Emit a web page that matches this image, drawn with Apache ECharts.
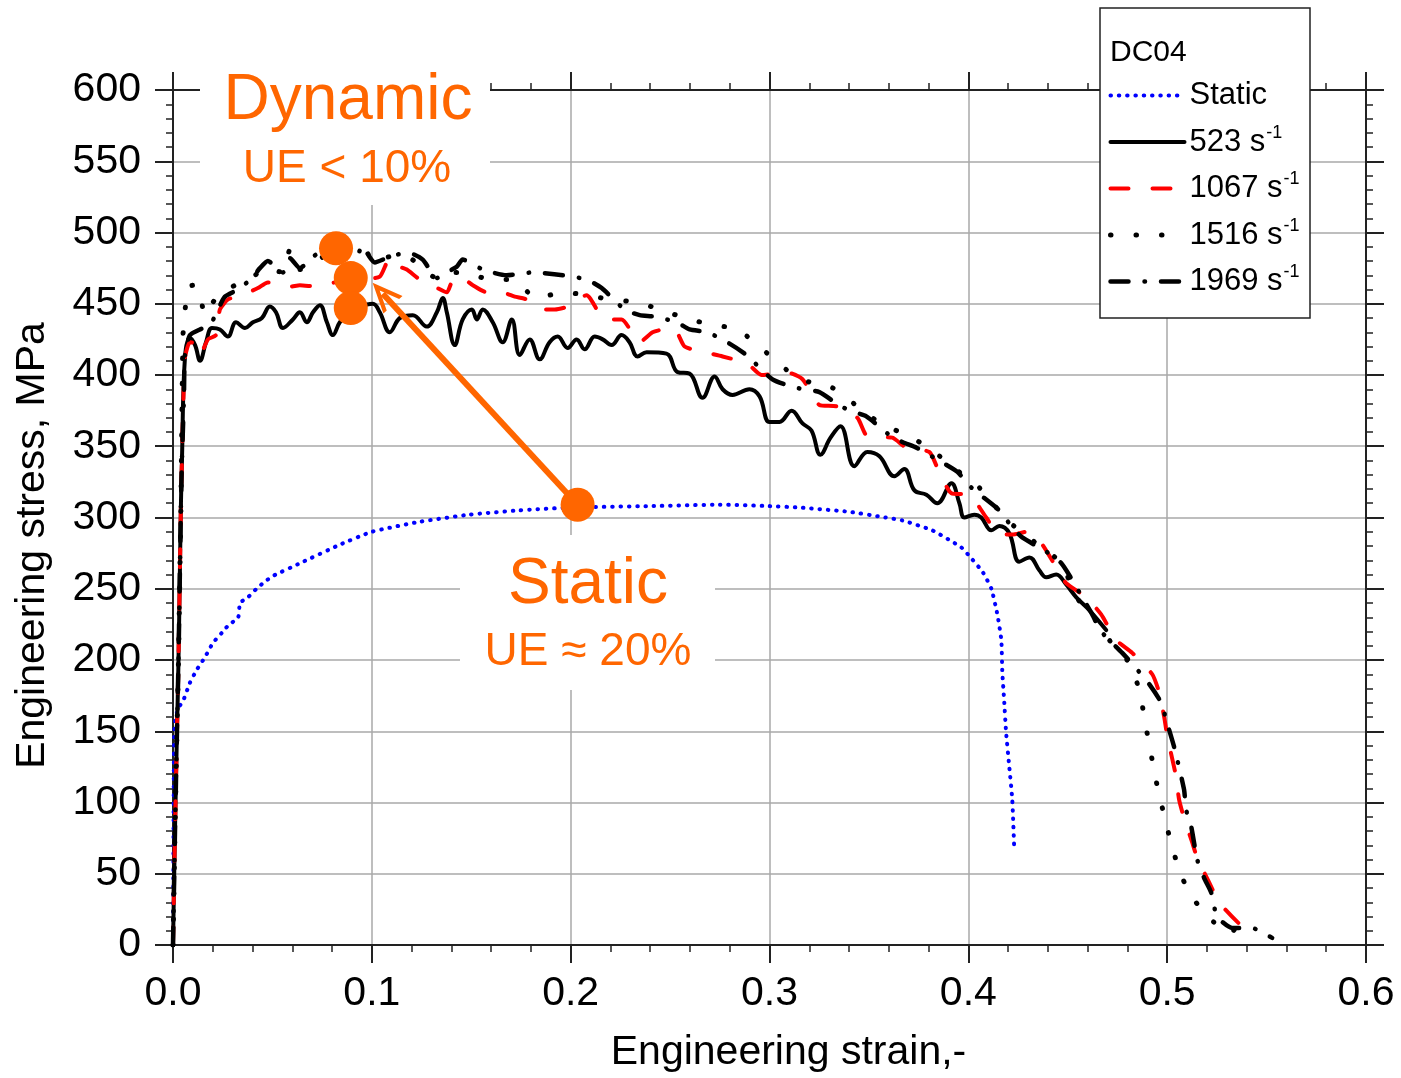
<!DOCTYPE html>
<html>
<head>
<meta charset="utf-8">
<title>DC04 stress-strain</title>
<script src="https://cdn.jsdelivr.net/npm/echarts@6.0.0/dist/echarts.min.js"></script>
<style>
html, body { margin: 0; padding: 0; background: #fff; }
#main { width: 1401px; height: 1078px; }
</style>
</head>
<body>
<div id="main"></div>
<script>
// [engineering strain, engineering stress MPa]
var staticCurve = [
	[0, 0], [0.0002, 60], [0.0004, 120], [0.0006, 149], [0.001, 156], [0.0025, 166], [0.005, 171],
	[0.0085, 184], [0.0119, 193], [0.0161, 202], [0.0201, 212], [0.0245, 219], [0.0276, 224],
	[0.0328, 230], [0.0337, 240], [0.0377, 244], [0.042, 250], [0.0462, 255], [0.0503, 259],
	[0.064, 268], [0.084, 281], [0.1, 290], [0.124, 297], [0.149, 302], [0.174, 305], [0.2, 307],
	[0.24, 308], [0.275, 309], [0.3, 308], [0.315, 307], [0.34, 304], [0.3583, 300], [0.3667, 298],
	[0.3819, 291], [0.3919, 283], [0.3965, 279], [0.4005, 273], [0.4071, 262], [0.4116, 250],
	[0.4146, 232], [0.4166, 214], [0.4171, 191], [0.418, 172], [0.419, 149], [0.4206, 125],
	[0.4221, 102], [0.4231, 67]
];

var rate523 = [
	[0, 0], [0.001, 80], [0.002, 150], [0.0027, 195], [0.0035, 265], [0.004, 310], [0.0045, 340],
	[0.006, 412], [0.0085, 426], [0.0111, 421], [0.0136, 410], [0.0166, 423], [0.0196, 433],
	[0.0236, 432], [0.0276, 427], [0.0317, 437], [0.0362, 433], [0.0402, 437], [0.0447, 440],
	[0.0487, 448], [0.0518, 444], [0.0553, 433], [0.0603, 439], [0.0638, 444], [0.0673, 437],
	[0.0704, 444], [0.0739, 449], [0.0774, 437], [0.0804, 428], [0.0839, 437], [0.0889, 444],
	[0.094, 448], [0.1005, 450], [0.104, 444], [0.109, 430], [0.1141, 440], [0.1206, 442],
	[0.1276, 434], [0.1327, 444], [0.1357, 454], [0.1377, 444], [0.1417, 421], [0.1457, 439],
	[0.1503, 446], [0.1528, 439], [0.1558, 446], [0.1608, 437], [0.1658, 423], [0.1704, 439],
	[0.1744, 414], [0.1794, 425], [0.1844, 411], [0.1894, 423], [0.1935, 427], [0.1985, 419],
	[0.203, 425], [0.207, 418], [0.2121, 427], [0.2161, 425], [0.2206, 421], [0.2256, 428],
	[0.2296, 423], [0.2337, 413], [0.2382, 416], [0.2482, 415], [0.2538, 402], [0.2598, 401],
	[0.2663, 384], [0.2724, 399], [0.2764, 390], [0.2814, 386], [0.2899, 390], [0.295, 385],
	[0.3, 367], [0.305, 367], [0.3111, 375], [0.3166, 366], [0.3211, 361], [0.3256, 344],
	[0.3307, 356], [0.3357, 364], [0.3427, 336], [0.3492, 346], [0.3553, 343], [0.3628, 329],
	[0.3678, 334], [0.3729, 319], [0.3789, 316], [0.3844, 310], [0.3915, 324], [0.3955, 310],
	[0.398, 300], [0.403, 302], [0.4065, 300], [0.4116, 291], [0.4156, 294], [0.4206, 289],
	[0.4256, 269], [0.4307, 272], [0.4357, 263], [0.4392, 258], [0.4442, 260], [0.4492, 253],
	[0.4543, 244], [0.4608, 235], [0.4693, 221]
];

var rate1067 = [
	[0, 0], [0.001, 80], [0.002, 150], [0.0027, 195], [0.0035, 265], [0.004, 310], [0.0045, 340],
	[0.006, 412], [0.0085, 423], [0.0111, 422], [0.0136, 414], [0.0176, 425], [0.0216, 428],
	[0.0236, 446], [0.0276, 453], [0.0322, 455], [0.0362, 457], [0.0427, 461], [0.0477, 465],
	[0.0523, 465], [0.0588, 462], [0.0638, 463], [0.0724, 462], [0.0814, 465], [0.094, 467],
	[0.104, 469], [0.109, 482], [0.1141, 476], [0.1176, 474], [0.1241, 467], [0.1317, 462],
	[0.1377, 458], [0.1407, 467], [0.1442, 469], [0.1508, 463], [0.1578, 458], [0.1653, 458],
	[0.1719, 455], [0.1779, 453], [0.1859, 446], [0.192, 446], [0.1985, 448], [0.208, 456],
	[0.2171, 439], [0.2256, 439], [0.2347, 423], [0.2412, 430], [0.2472, 432], [0.2523, 432],
	[0.2573, 420], [0.2673, 416], [0.2764, 413], [0.2889, 408], [0.296, 400], [0.3085, 402],
	[0.3166, 397], [0.3251, 379], [0.3337, 378], [0.3442, 370], [0.3492, 357], [0.3618, 356],
	[0.3688, 349], [0.3804, 346], [0.3844, 335], [0.3915, 317], [0.4005, 316], [0.409, 300],
	[0.4156, 288], [0.4221, 288], [0.4291, 290], [0.4367, 282], [0.4442, 265], [0.4492, 254],
	[0.4593, 244], [0.4668, 232], [0.4744, 214], [0.4824, 205], [0.4925, 190], [0.496, 177],
	[0.4985, 160], [0.5, 147], [0.5025, 131], [0.5045, 118], [0.506, 102], [0.5085, 89],
	[0.5126, 72], [0.5151, 61], [0.5211, 44], [0.5261, 30], [0.5362, 15], [0.5387, 14]
];

var rate1516 = [
	[0, 0], [0.001, 80], [0.002, 150], [0.0027, 195], [0.0035, 265], [0.004, 310],
	[0.005, 427], [0.006, 444], [0.0075, 462], [0.0111, 463], [0.0136, 456], [0.0161, 442],
	[0.0211, 453], [0.0276, 460], [0.0337, 465], [0.0412, 470], [0.0462, 475], [0.0553, 472],
	[0.0588, 488], [0.0638, 474], [0.0714, 479], [0.0789, 486], [0.0864, 488], [0.095, 490],
	[0.1015, 479], [0.109, 483], [0.1191, 482], [0.1327, 468], [0.1377, 472], [0.1467, 472],
	[0.1593, 467], [0.1704, 467], [0.1829, 454], [0.196, 458], [0.2085, 456], [0.2196, 453],
	[0.2337, 451], [0.2447, 446], [0.2598, 439], [0.2724, 435], [0.2839, 432], [0.2965, 418],
	[0.3101, 402], [0.3201, 395], [0.3317, 391], [0.3442, 378], [0.3568, 365], [0.3693, 358],
	[0.3819, 347], [0.3945, 333], [0.4055, 321], [0.4196, 298], [0.4332, 283], [0.4467, 268],
	[0.4543, 244], [0.4623, 232], [0.4709, 214], [0.4814, 197], [0.4859, 179], [0.4884, 161],
	[0.4905, 144], [0.493, 126], [0.4955, 108], [0.4985, 91], [0.5015, 74], [0.5055, 55],
	[0.5106, 38], [0.5196, 21], [0.5322, 8], [0.5342, 12]
];

var rate1969 = [
	[0, 0], [0.001, 80], [0.002, 150], [0.0027, 195], [0.0035, 265], [0.004, 310], [0.0045, 340],
	[0.0055, 385], [0.006, 414], [0.0085, 428], [0.0136, 432], [0.0186, 435], [0.0226, 446],
	[0.0261, 455], [0.0327, 460], [0.0397, 468], [0.0437, 475], [0.0477, 480], [0.0553, 472],
	[0.0588, 482], [0.0638, 475], [0.0704, 483], [0.0789, 490], [0.0864, 488], [0.0925, 484],
	[0.095, 490], [0.1015, 479], [0.109, 483], [0.1181, 486], [0.1256, 481], [0.1327, 468],
	[0.1377, 472], [0.1427, 476], [0.1457, 481], [0.1558, 474], [0.1678, 470], [0.1809, 472],
	[0.196, 470], [0.208, 467], [0.2156, 461], [0.2271, 446], [0.2347, 442], [0.2422, 441],
	[0.2533, 437], [0.2598, 432], [0.2688, 430], [0.2799, 422], [0.2884, 414], [0.3015, 397],
	[0.3136, 391], [0.3251, 388], [0.3337, 380], [0.3402, 375], [0.3487, 371], [0.3593, 359],
	[0.3668, 353], [0.3739, 349], [0.3864, 339], [0.3945, 332], [0.4015, 321], [0.4156, 305],
	[0.4221, 293], [0.4271, 286], [0.4392, 276], [0.4467, 268], [0.4523, 256], [0.4573, 244],
	[0.4623, 232], [0.4668, 220], [0.4774, 205], [0.4839, 195], [0.4915, 182], [0.497, 170],
	[0.4995, 158], [0.5035, 139], [0.5085, 109], [0.5095, 95], [0.5121, 83], [0.5151, 60],
	[0.5186, 47], [0.5221, 37], [0.5251, 20], [0.5327, 12], [0.5427, 12], [0.5487, 8], [0.5528, 5]
];

// orange markers: peak stresses of the dynamic tests and of the static test
var dynamicPeaks = [[0.082, 489], [0.0894, 468], [0.0894, 447]];
var staticPeak = [[0.2035, 309]];
var arrowFrom = [0.2035, 309];
var arrowTo = [0.1055, 457];

var strainTicks = [0, 0.1, 0.2, 0.3, 0.4, 0.5, 0.6];
var stressTicks = [0, 600, 50];

var FONT = '"Liberation Sans", Arial, sans-serif';
var ORANGE = '#ff6600';
var AXIS = '#222';

function curve(name, data, color, dash, width, smooth) {
	return {
		name: name,
		type: 'line',
		data: data,
		symbol: 'none',
		smooth: smooth,
		lineStyle: { color: color, width: width, type: dash, cap: 'round', join: 'round' },
		itemStyle: { color: color },
		z: 2
	};
}

function frameAxis(pos, isX, main) {
	var ax = {
		type: 'value',
		position: pos,
		min: isX ? strainTicks[0] : stressTicks[0],
		max: isX ? strainTicks[strainTicks.length - 1] : stressTicks[1],
		interval: isX ? 0.1 : stressTicks[2],
		axisLine: { show: true, onZero: false, lineStyle: { color: AXIS, width: 2 } },
		axisTick: { show: true, inside: false, length: 18, lineStyle: { color: AXIS, width: 2 } },
		minorTick: { show: true, splitNumber: 5, length: 7, lineStyle: { color: AXIS, width: 1.5 } },
		axisLabel: { show: false },
		splitLine: { show: false }
	};
	if (main) {
		ax.axisLabel = {
			show: true, margin: isX ? 28 : 32, fontSize: 41, color: '#000', fontFamily: FONT,
			formatter: isX ? function(v) { return v.toFixed(1); } : null
		};
		ax.splitLine = { show: true, lineStyle: { color: '#a8a8a8', width: 1.5 } };
		ax.nameLocation = 'middle';
		if (isX) {
			ax.name = 'Engineering strain,-';
			ax.nameGap = 87;
			ax.nameTextStyle = { fontSize: 41, color: '#000', fontFamily: FONT, padding: [0, 0, 0, 38] };
		} else {
			ax.name = 'Engineering stress, MPa';
			ax.nameGap = 120;
			ax.nameTextStyle = { fontSize: 41, color: '#000', fontFamily: FONT, padding: [0, 56, 0, 0] };
		}
	}
	return ax;
}

var chart = echarts.init(document.getElementById('main'));

var option = {
	animation: false,
	backgroundColor: '#fff',
	grid: { left: 173, right: 35, top: 90, bottom: 133, containLabel: false },
	xAxis: [frameAxis('bottom', true, true), frameAxis('top', true, false)],
	yAxis: [frameAxis('left', false, true), frameAxis('right', false, false)],
	legend: {
		left: 1108,
		top: 80,
		orient: 'vertical',
		selectedMode: false,
		itemWidth: 74,
		itemHeight: 14,
		itemGap: 13,
		padding: 0,
		data: ['Static', '523', '1067', '1516', '1969'],
		lineStyle: { width: 'inherit' },
		itemStyle: { opacity: 0 },
		formatter: function(name) {
			if (name === 'Static') return '{t|Static}';
			return '{t|' + name + ' s}{s|-1}';
		},
		textStyle: {
			color: '#000',
			fontFamily: FONT,
			rich: {
				t: { fontSize: 31, lineHeight: 32, fontFamily: FONT, color: '#000' },
				s: { fontSize: 18, fontFamily: FONT, color: '#000', padding: [0, 0, 18, 1] }
			}
		}
	},
	graphic: [
		{ type: 'rect', z: 3, shape: { x: 1100, y: 8, width: 210, height: 310 },
			style: { fill: '#fff', stroke: '#222', lineWidth: 1.5 } },
		{ type: 'text', z: 5, x: 1110, y: 53,
			style: { text: 'DC04', font: '30px ' + FONT, fill: '#000', align: 'left', verticalAlign: 'middle' } },
		{ type: 'rect', z: 3, shape: { x: 200, y: 50, width: 290, height: 155 }, style: { fill: '#fff' } },
		{ type: 'text', z: 5, x: 348, y: 101,
			style: { text: 'Dynamic', font: '64px ' + FONT, fill: ORANGE, align: 'center', verticalAlign: 'middle' } },
		{ type: 'text', z: 5, x: 347, y: 169,
			style: { text: 'UE < 10%', font: '46px ' + FONT, fill: ORANGE, align: 'center', verticalAlign: 'middle' } },
		{ type: 'rect', z: 3, shape: { x: 460, y: 535, width: 255, height: 155 }, style: { fill: '#fff' } },
		{ type: 'text', z: 5, x: 588, y: 585,
			style: { text: 'Static', font: '64px ' + FONT, fill: ORANGE, align: 'center', verticalAlign: 'middle' } },
		{ type: 'text', z: 5, x: 588, y: 652,
			style: { text: 'UE \u2248 20%', font: '46px ' + FONT, fill: ORANGE, align: 'center', verticalAlign: 'middle' } }
	],
	series: [
		curve('Static', staticCurve, '#0000ff', [0.5, 7.8], 4, 0.15),
		curve('523', rate523, '#000', 'solid', 4, 0.4),
		curve('1067', rate1067, '#ff0000', [18, 24], 4, 0.2),
		curve('1516', rate1516, '#000', [0.5, 25], 5, 0.2),
		curve('1969', rate1969, '#000', [18, 16, 0.5, 16], 4.5, 0.2),
		{
			name: 'dynamic peaks',
			type: 'scatter',
			data: dynamicPeaks,
			symbolSize: 34,
			itemStyle: { color: ORANGE, opacity: 1 },
			z: 10
		},
		{
			name: 'static peak',
			type: 'scatter',
			data: staticPeak,
			symbolSize: 34,
			itemStyle: { color: ORANGE, opacity: 1 },
			z: 10,
			markLine: {
				silent: true,
				symbol: ['none', 'path://M10,0 L20,20 L16.5,20 L10,7 L3.5,20 L0,20 Z'],
				symbolSize: [26, 30],
				label: { show: false },
				lineStyle: { color: ORANGE, width: 6, type: 'solid', opacity: 1 },
				data: [[{ coord: arrowFrom }, { coord: arrowTo }]]
			}
		}
	]
};

chart.setOption(option);
</script>
</body>
</html>
